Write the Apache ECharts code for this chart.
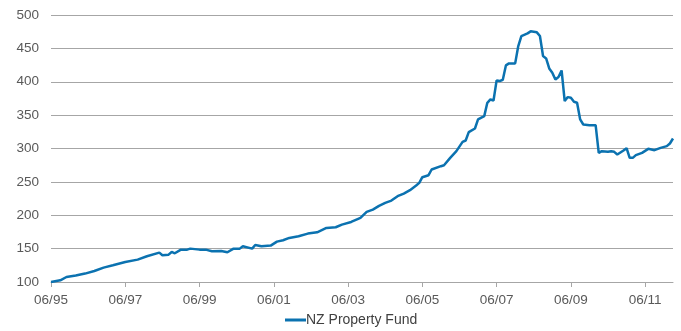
<!DOCTYPE html>
<html>
<head>
<meta charset="utf-8">
<script src="https://cdn.jsdelivr.net/npm/echarts@6/dist/echarts.min.js"></script>
<style>
  html, body { margin: 0; padding: 0; background: #fff; }
  #chart { width: 681px; height: 331px; }
</style>
</head>
<body>
<div id="chart"></div>
<script>
// months counted from 06/95
const monthOffsets = [0, 3, 5, 8, 11, 14, 17, 20, 24, 28, 31, 35, 36, 38, 39, 40, 42, 44, 45, 48, 50, 52, 55, 57, 59, 61, 62, 65, 66, 68, 71, 73, 75, 77, 80, 83, 86, 89, 92, 94, 97, 100, 102, 104, 106, 108, 110, 112, 114, 116, 118, 119, 120, 122, 123, 126, 127, 129, 131, 133, 134, 135, 137, 138, 140, 141, 142, 143, 144, 145, 146, 147, 148, 150, 151, 152, 154, 155, 157, 158, 159, 160, 161, 162, 163, 164, 165, 166, 167, 168, 169, 170, 171, 172, 174, 176, 177, 178, 180, 181, 182, 183, 185, 186, 187, 188, 189, 191, 193, 195, 197, 199, 200, 201];
const fundValues = [100, 102.5, 107.5, 109.6, 112.6, 116.5, 121.5, 125, 130, 133.5, 138.5, 144, 140, 141, 145, 143, 148.5, 148.5, 150, 148.5, 148.5, 146, 146.5, 144.5, 150, 150, 153.5, 150, 155.5, 153.5, 154.5, 160.5, 162.5, 166, 168.5, 172.5, 174.5, 181, 182, 186, 190, 196, 205, 208.5, 214, 218.5, 222, 228.5, 232.5, 237.5, 244.5, 248.5, 257, 260, 268.5, 273.5, 275, 286, 296, 310, 312, 324.5, 330, 343.5, 348.5, 368.5, 373.5, 372, 402, 401, 403, 424.5, 427.5, 427.5, 453.5, 468.5, 472.5, 475.5, 474, 468.5, 438.5, 435, 420, 413.5, 403.5, 407, 417, 371, 377, 376, 370, 368.5, 343.5, 336, 335, 335, 293.5, 296, 295, 296, 295, 291, 297, 300.5, 286, 286, 290, 293.5, 299.5, 297.5, 301, 303.5, 307.5, 315];
const seriesName = 'NZ Property Fund';

const toLabel = (m) => {
    let total = 5 + m;
    let yy = (1995 + Math.floor(total / 12)) % 100;
    let mm = (total % 12) + 1;
    return String(mm).padStart(2, '0') + '/' + String(yy).padStart(2, '0');
};

let chart = echarts.init(document.getElementById('chart'));
chart.setOption({
    animation: false,
    grid: { left: 51, right: 8, top: 15, bottom: 49 },
    legend: {
        top: 311, left: 283, padding: 2,
        icon: 'rect', itemWidth: 21, itemHeight: 3, itemGap: 10,
        textStyle: { color: '#404040', fontSize: 14, fontFamily: 'Liberation Sans', padding: [0, 0, 0, -5] },
        data: [seriesName]
    },
    xAxis: {
        type: 'value', min: 0, max: 201, interval: 24,
        axisLine: { lineStyle: { color: '#a6a6a6', width: 1 } },
        axisTick: { show: true, length: 5, lineStyle: { color: '#a6a6a6' } },
        axisLabel: {
            color: '#595959', fontSize: 13.5, fontFamily: 'Liberation Sans', margin: 11,
            showMaxLabel: false, formatter: toLabel
        },
        splitLine: { show: false }
    },
    yAxis: {
        type: 'value', min: 100, max: 500, interval: 50,
        axisLine: { show: false },
        axisTick: { show: false },
        axisLabel: { color: '#595959', fontSize: 13.5, fontFamily: 'Liberation Sans', margin: 12 },
        splitLine: { lineStyle: { color: '#a6a6a6', width: 1 } }
    },
    series: [{
        name: seriesName, type: 'line', showSymbol: false,
        lineStyle: { color: '#0b72b0', width: 2.5 },
        itemStyle: { color: '#0b72b0' },
        data: monthOffsets.map((m, i) => [m, fundValues[i]])
    }]
});
</script>
</body>
</html>
